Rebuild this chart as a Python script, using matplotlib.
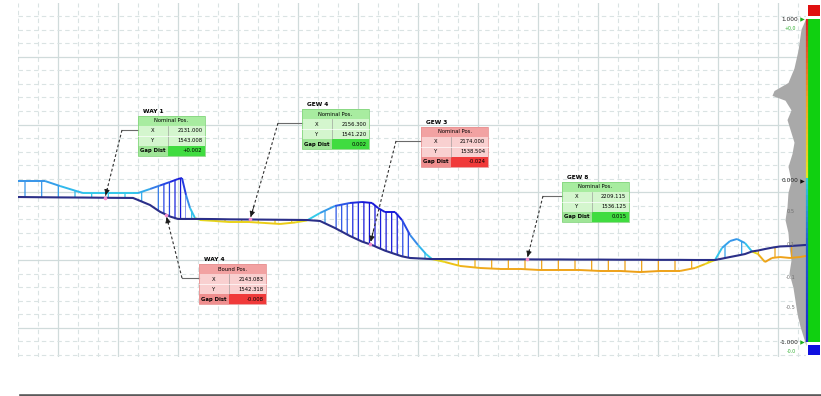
import numpy as np
import matplotlib
matplotlib.use('Agg')
import matplotlib.pyplot as plt
from matplotlib.collections import LineCollection
from matplotlib.colors import LinearSegmentedColormap, Normalize
from matplotlib.patches import Rectangle
from matplotlib.lines import Line2D

plt.rcParams['font.family'] = ['DejaVu Sans']
plt.rcParams['hatch.linewidth'] = 0.9

# profile: station (m), design and as-built elevation (mm)
station = [-40, -28, -13, 2, 25, 52, 75, 80, 92, 102, 112, 120, 124, 128, 132, 137,
           142, 157, 172, 192, 207, 222, 237, 249, 262, 277, 292, 304, 314, 320, 327,
           337, 344, 352, 360, 368, 374, 387, 402, 422, 442, 462, 482, 502, 522, 542,
           562, 582, 602, 622, 637, 647, 657, 664, 672, 679, 687, 694, 700, 707, 714,
           722, 732, 742, 748]
design = [46.5, 46.4, 46.3, 46.2, 46.1, 45.9, 45.8, 44.3, 40.6, 35.6, 32.1, 30.3, 30.3,
          30.3, 30.3, 30.3, 30.3, 30.2, 30.0, 29.9, 29.8, 29.7, 29.6, 29.5, 28.8, 23.6,
          17.7, 13.6, 11.1, 9.1, 6.9, 4.4, 2.7, 1.5, 1.2, 0.9, 0.7, 0.7, 0.7, 0.6, 0.5,
          0.5, 0.4, 0.4, 0.3, 0.3, 0.2, 0.2, 0.1, 0.1, 0.0, 0.0, 0.0, 1.0, 2.2, 3.2, 4.4,
          6.3, 7.0, 8.1, 9.1, 10.0, 10.3, 10.8, 11.1]
asbuilt = [58.3, 58.3, 58.3, 54.6, 49.4, 49.4, 49.4, 49.4, 52.4, 55.0, 57.6, 59.8, 60.5,
           48.0, 38.4, 31.0, 29.5, 28.8, 28.0, 28.0, 27.3, 26.6, 27.7, 29.2, 34.7, 39.9,
           42.1, 42.8, 42.1, 38.4, 35.4, 35.4, 29.5, 18.5, 11.1, 4.4, 0.7, -1.5, -4.4,
           -5.9, -6.6, -6.6, -7.4, -7.4, -7.4, -8.1, -8.1, -8.9, -8.1, -8.1, -5.9, -3.0,
           0.0, 8.9, 14.0, 15.5, 12.5, 6.3, 4.4, -1.5, 1.5, 2.2, 1.5, 2.2, 3.0]

# deviation distribution on the right side
hist_level = [1010, 940, 810, 700, 610, 560, 530, 500, 440, 380, 300, 240, 170, 90, 0,
              -70, -160, -240, -320, -410, -490, -570, -660, -740, -820, -900, -980, -1020]
hist_count = [0, 5, 8, 12, 18, 32, 34, 21, 15, 19, 15, 12, 14, 18, 15, 18, 19, 21, 18, 17,
              15, 17, 13, 11, 9, 6, 2, 0]

# checkpoints
cp_name = ['WAY 1', 'GEW 4', 'GEW 3', 'GEW 8', 'WAY 4']
cp_station = [47, 192, 312, 469, 108]
cp_header = ['Nominal Pos.', 'Nominal Pos.', 'Nominal Pos.', 'Nominal Pos.', 'Bound Pos.']
cp_x = ['2131.000', '2156.300', '2174.000', '2209.115', '2143.083']
cp_y = ['1543.008', '1541.220', '1538.504', '1536.125', '1542.318']
cp_gap = ['+0.002', '0.002', '-0.024', '0.015', '-0.008']
cp_ok = [True, True, False, True, False]
# box left, box top, leader length
cp_box = [(80, 106.3, 16), (244, 111.4, 24), (363, 98.2, 25), (504, 57.6, 19), (141, -3.0, 17)]

station = np.array(station, float)
design = np.array(design)
asbuilt = np.array(asbuilt)
dev = asbuilt - design

cmap = LinearSegmentedColormap.from_list('dev', [
    (0.0, '#e8900c'), (0.119, '#f0a81c'), (0.214, '#ecc814'), (0.274, '#e8e020'),
    (0.298, '#38d8e8'), (0.429, '#30b8ec'), (0.619, '#3888e8'), (0.81, '#2848e4'),
    (1.0, '#1818d8')])
norm = Normalize(-12, 30)

fig = plt.figure(figsize=(8.21, 3.96), dpi=100)
ax = fig.add_axes([18 / 821, 1 - 357 / 396, 788 / 821, 354 / 396])
side = fig.add_axes([760 / 821, 1 - 357 / 396, 61 / 821, 354 / 396], zorder=3)
side.set_xlim(0, 61)
side.set_ylim(-1090, 1102)
side.patch.set_alpha(0)
side.axis('off')

ax.set_xlim(-40, 748)
ax.set_ylim(-71.6, 189.7)
ax.set_xticks(np.arange(0, 748, 60))
ax.set_xticks(np.arange(-40, 748, 20), minor=True)
ax.set_yticks(np.arange(-50, 190, 50))
ax.set_yticks(np.arange(-70, 190, 10), minor=True)
ax.tick_params(which='both', length=0, labelbottom=False, labelleft=False)
ax.set_axisbelow(True)
ax.grid(which='major', color='#d0dbdb', lw=0.9)
ax.grid(which='minor', color='#dae3e3', lw=0.8, ls=(0, (4, 3)))
for s in ax.spines.values():
    s.set_visible(False)

# grey distribution behind the profile
ax.fill_betweenx(hist_level, 46 - np.array(hist_count), 46, transform=side.transData,
                 color='#a9a9a9', lw=0, zorder=1)

# hatched deviation between design and as-built
for i in range(len(station) - 1):
    d = (dev[i] + dev[i + 1]) / 2
    c = cmap(norm(d))
    ax.fill_between(station[i:i + 2], design[i:i + 2], asbuilt[i:i + 2],
                    facecolor='none', edgecolor=c, lw=0,
                    hatch='|||' if abs(d) > 18 else '|', zorder=2)

pts = np.column_stack([station, asbuilt]).reshape(-1, 1, 2)
segs = np.concatenate([pts[:-1], pts[1:]], axis=1)
lc = LineCollection(segs, colors=cmap(norm((dev[:-1] + dev[1:]) / 2)), lw=1.4, zorder=3)
ax.add_collection(lc)
ax.plot(station, design, color='#2b2f88', lw=1.5, zorder=4, solid_capstyle='round')

# callouts
pal_ok = dict(head='#a8eca0', body='#d4f6ce', gapl='#9fe597', gapr='#40dc40', edge='#86d680')
pal_bad = dict(head='#f2a2a2', body='#f9d0d0', gapl='#ef8e8e', gapr='#f03a3a', edge='#e89494')
w, rh = 67, 7.38
fs = 3.8
for k in range(len(cp_name)):
    left, top, lead = cp_box[k]
    p = pal_ok if cp_ok[k] else pal_bad
    z = 6
    ax.text(left + 5, top + 1.2, cp_name[k], fontsize=4.2, fontweight='bold', ha='left',
            va='bottom', zorder=z)
    ax.add_patch(Rectangle((left, top - rh), w, rh, fc=p['head'], ec='none', zorder=z))
    ax.add_patch(Rectangle((left, top - 3 * rh), w, 2 * rh, fc=p['body'], ec='none', zorder=z))
    ax.add_patch(Rectangle((left, top - 4 * rh), 0.45 * w, rh, fc=p['gapl'], ec='none', zorder=z))
    ax.add_patch(Rectangle((left + 0.45 * w, top - 4 * rh), 0.55 * w, rh, fc=p['gapr'],
                           ec='none', zorder=z))
    ax.add_patch(Rectangle((left, top - 4 * rh), w, 4 * rh, fc='none', ec=p['edge'], lw=0.6,
                           zorder=z + 1))
    ax.plot([left + 0.45 * w] * 2, [top - rh, top - 3 * rh], color='#909090', lw=0.4, zorder=z + 1)
    ax.plot([left, left + w], [top - 2 * rh] * 2, color='white', lw=0.5, zorder=z + 1)
    ax.text(left + w / 2, top - rh / 2, cp_header[k], fontsize=fs, ha='center', va='center',
            zorder=z + 2)
    for r, (lab, val) in enumerate([('X', cp_x[k]), ('Y', cp_y[k])]):
        yy = top - (1.5 + r) * rh
        ax.text(left + 0.22 * w, yy, lab, fontsize=fs, ha='center', va='center', zorder=z + 2)
        ax.text(left + 0.96 * w, yy, val, fontsize=fs, ha='right', va='center', zorder=z + 2)
    ax.text(left + 0.03 * w, top - 3.5 * rh, 'Gap Dist', fontsize=fs, fontweight='bold',
            ha='left', va='center', zorder=z + 2)
    ax.text(left + 0.96 * w, top - 3.5 * rh, cp_gap[k], fontsize=fs, ha='right', va='center',
            zorder=z + 2)

    # leader line to the checkpoint
    tx = cp_station[k]
    ty = np.interp(tx, station, design)
    ex, ey = left - lead, top - 1.4 * rh
    ax.plot([ex, left], [ey, ey], color='#6a6a6a', lw=0.8, zorder=z)
    ax.plot([ex, tx], [ey, ty], color='#333333', lw=0.8, ls=(0, (2.5, 2)), zorder=z)
    ax.annotate('', xy=(tx, ty), xytext=(tx + (ex - tx) * 0.14, ty + (ey - ty) * 0.14),
                arrowprops=dict(arrowstyle='-|>', color='#1a1a1a', lw=0.6, mutation_scale=8,
                                shrinkA=0, shrinkB=2), zorder=z)
    ax.plot(tx, ty, 'o', ms=2.6, color='#f48ccc', mec='none', zorder=z + 1)

# right side scale
bar_cmap = LinearSegmentedColormap.from_list('bar', [
    (0.0, '#1a2ad0'), (0.3, '#2060d0'), (0.49, '#30c8d8'), (0.51, '#e8e020'),
    (0.75, '#f0a020'), (1.0, '#e02020')])
lev = np.linspace(-1000, 1000, 60)
bpts = np.column_stack([np.full_like(lev, 46.5), lev]).reshape(-1, 1, 2)
bsegs = np.concatenate([bpts[:-1], bpts[1:]], axis=1)
side.add_collection(LineCollection(bsegs, colors=bar_cmap((lev[:-1] + 1000) / 2000), lw=1.6))
side.bar(53.5, 2000, bottom=-1000, width=12.5, color='#10d010')
side.bar(54, 68, bottom=1021, width=12, color='#e01010')
side.bar(54, 62, bottom=-1077, width=12, color='#1010e0')

for val, txt, mc in [(1000, '1.000', '#20b020'), (0, '0.000', '#111111'),
                     (-1000, '-1.000', '#20b020')]:
    side.text(38.5, val, txt, fontsize=4.2, ha='right', va='center', color='#222222')
    side.plot(42, val, '>', ms=3.2, color=mc, mec='none')
side.text(36, 945, '+0.0', fontsize=3.4, ha='right', va='center', color='#30b030')
side.text(36, -1055, '-0.0', fontsize=3.4, ha='right', va='center', color='#30b030')
for val, txt in [(-192, '0.5'), (-396, '0.1'), (-600, '-0.1'), (-786, '-0.5')]:
    side.text(35, val, txt, fontsize=3.6, ha='right', va='center', color='#707070')

fig.add_artist(Line2D([20 / 821, 1], [1 - 394.5 / 396] * 2, transform=fig.transFigure,
                      color='#5a5a5a', lw=1.9))

fig.savefig('out.png', dpi=100, facecolor='white')
